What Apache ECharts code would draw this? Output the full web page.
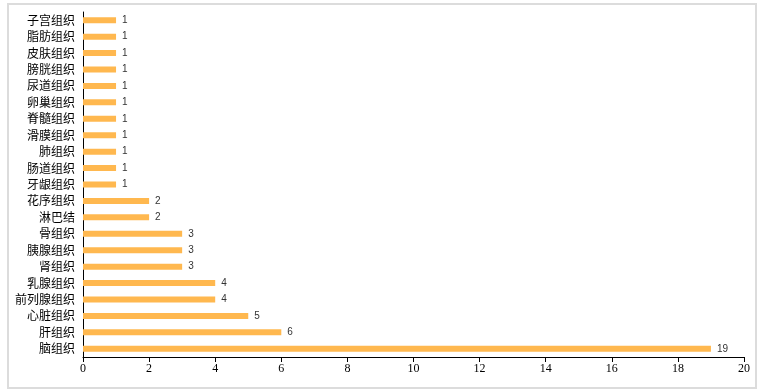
<!DOCTYPE html>
<html><head><meta charset="utf-8">
<script src="https://cdn.jsdelivr.net/npm/echarts@6/dist/echarts.min.js"></script>
<style>html,body{margin:0;padding:0;background:#fff;}#frame{position:absolute;left:7px;top:3px;width:746px;height:382px;border:2px solid #dcdcdc;}#c{position:absolute;left:0;top:0;width:763px;height:392px;}</style>
</head><body><div id="frame"></div><div id="c"></div>
<script>
const categories = ['脑组织','肝组织','心脏组织','前列腺组织','乳腺组织','肾组织','胰腺组织','骨组织','淋巴结','花序组织','牙龈组织','肠道组织','肺组织','滑膜组织','脊髓组织','卵巢组织','尿道组织','膀胱组织','皮肤组织','脂肪组织','子宫组织'];
const values = [19,6,5,4,4,3,3,3,2,2,1,1,1,1,1,1,1,1,1,1,1];
const xTicks = {min:0, max:20, interval:2};
const chart = echarts.init(document.getElementById('c'));
chart.setOption({
  animation:false,
  grid:{left:83,right:19,top:12,bottom:35,containLabel:false},
  xAxis:{type:'value',min:xTicks.min,max:xTicks.max,interval:xTicks.interval,
    axisLine:{show:true,lineStyle:{color:'#000',width:1}},
    axisTick:{show:true,length:5,lineStyle:{color:'#000'}},
    splitLine:{show:false},
    axisLabel:{color:'#000',fontFamily:'Liberation Serif',fontSize:12,margin:6}},
  yAxis:{type:'category',data:categories,
    axisLine:{show:true,lineStyle:{color:'#000',width:1}},
    axisTick:{show:false},
    axisLabel:{color:'#000',fontFamily:'Noto Sans CJK SC',fontSize:12,margin:8}},
  series:[{type:'bar',data:values,barWidth:6,itemStyle:{color:'#FFB84F'},
    label:{show:true,position:'right',distance:6,color:'#333',fontSize:10,fontFamily:'Arial, Liberation Sans'}}]
});
</script></body></html>
